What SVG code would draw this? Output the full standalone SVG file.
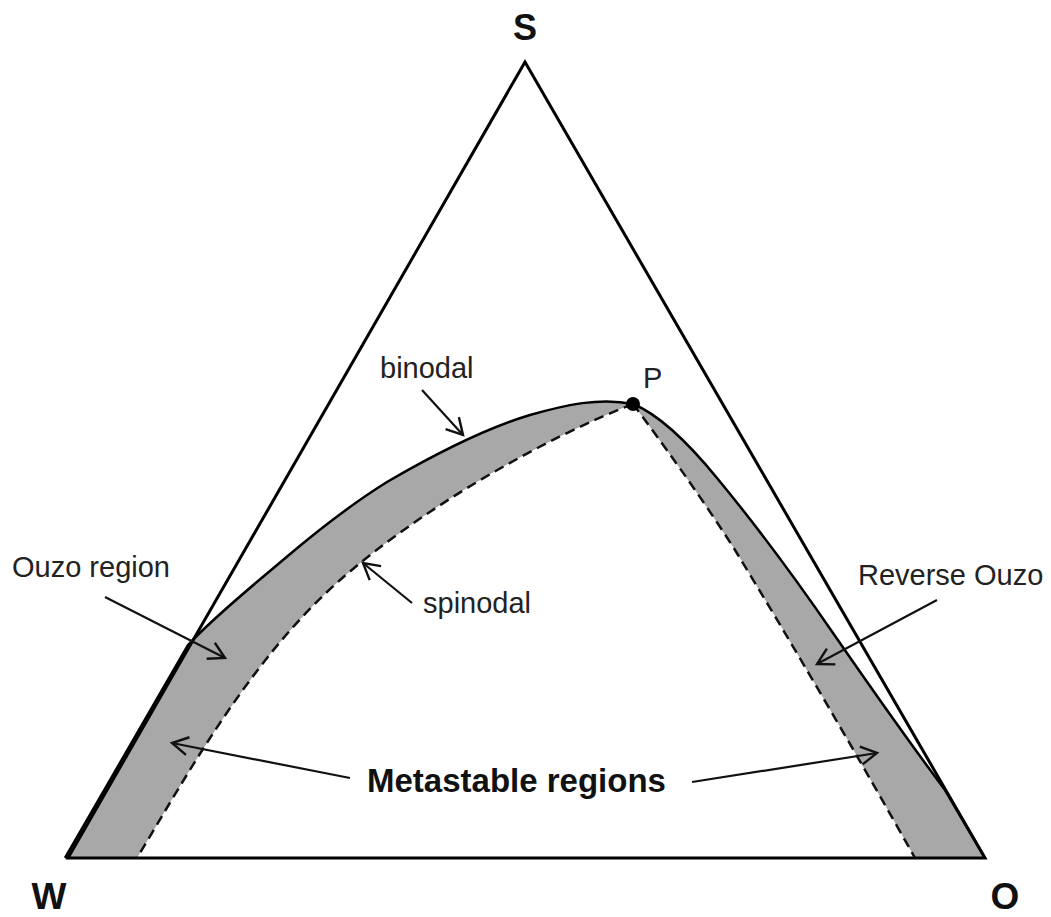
<svg xmlns="http://www.w3.org/2000/svg" width="1051" height="917" viewBox="0 0 1051 917">
<style>
.lbl{font-family:"Liberation Sans",Arial,sans-serif;font-size:29px;fill:#222}
.big{font-family:"Liberation Sans",Arial,sans-serif;font-weight:bold;fill:#111}
.edge{fill:none;stroke:#000;stroke-width:3;stroke-linejoin:miter}
.bin{fill:none;stroke:#000;stroke-width:2.5}
.spin{fill:none;stroke:#111;stroke-width:2.5;stroke-dasharray:10 6}
.arr{fill:none;stroke:#111;stroke-width:2.2;marker-end:url(#open)}
</style>
<defs>
<marker id="open" markerUnits="userSpaceOnUse" viewBox="-20 -14 24 28" refX="0" refY="0" markerWidth="24" markerHeight="28" orient="auto">
<path d="M-16,-9 L0,0 L-16,9" fill="none" stroke="#111" stroke-width="2.4"/>
</marker>
</defs>
<rect width="1051" height="917" fill="#fff"/>
<g id="metastable-band">
<path fill="#a8a8a8" d="M 65,858 L 188,645 C 215,616 250,588 283,560 C 310,537 350,505 387,482 C 430,457 480,430 530,415 C 565,405 600,397 633,404 C 660,415 690,445 717,478 C 760,530 800,585 833,633 C 860,672 900,730 945,790 L 985,858 L 915,858 C 860,760 790,640 735,550 C 700,495 660,440 633,404 C 540,440 420,510 340,580 C 250,660 190,770 137,858 Z"/>
</g>
<g id="triangle">
<path class="edge" d="M 68,858 L 525,62 L 985,858 Z"/>
</g>
<g id="binodal-curve">
<path class="bin" d="M 65,858 L 188,645 C 215,616 250,588 283,560 C 310,537 350,505 387,482 C 430,457 480,430 530,415 C 565,405 600,397 633,404 C 660,415 690,445 717,478 C 760,530 800,585 833,633 C 860,672 900,730 945,790 L 985,858" stroke-width="3"/>
</g>
<g id="spinodal-curve">
<path class="spin" d="M 633,404 C 540,440 420,510 340,580 C 250,660 190,770 137,858"/>
<path class="spin" d="M 633,404 C 660,440 700,495 735,550 C 790,640 860,760 915,858"/>
</g>
<g id="point-P">
<circle cx="633" cy="404" r="7" fill="#000"/>
<text class="lbl" x="643" y="388">P</text>
</g>
<g id="connectors">
<path class="arr" d="M 422,390 L 463,435"/>
<path class="arr" d="M 412,603 L 363,563"/>
<path class="arr" d="M 105,597 L 225,658"/>
<path class="arr" d="M 937,600 L 817,664"/>
<path class="arr" d="M 350,778 L 172,743"/>
<path class="arr" d="M 692,782 L 877,753"/>
</g>
<g id="labels">
<text class="big" x="525" y="40" font-size="36" text-anchor="middle">S</text>
<text class="big" x="49" y="909" font-size="37" text-anchor="middle">W</text>
<text class="big" x="1005" y="909" font-size="37" text-anchor="middle">O</text>
<text class="lbl" x="380" y="378">binodal</text>
<text class="lbl" x="423" y="613">spinodal</text>
<text class="lbl" x="12" y="577">Ouzo region</text>
<text class="lbl" x="858" y="585">Reverse Ouzo</text>
<text class="big" x="367" y="792" font-size="33">Metastable regions</text>
</g>
</svg>
